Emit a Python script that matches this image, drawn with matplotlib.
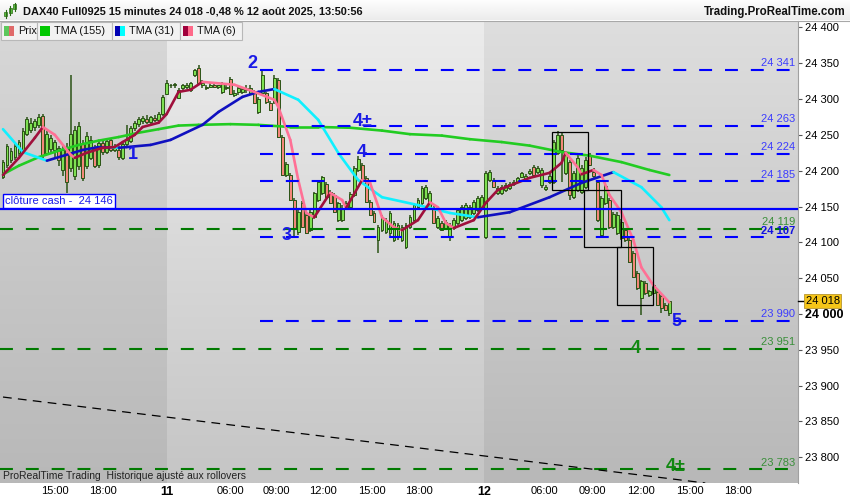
import numpy as np
import matplotlib.pyplot as plt
import matplotlib.colors as mcolors
import matplotlib.transforms as mtransforms
from matplotlib.patches import Rectangle
from matplotlib.collections import LineCollection

plt.rcParams['font.family'] = ['Liberation Sans', 'DejaVu Sans']

# DAX40 15 min bars, 10-12 Aug 2025
opens = [24191, 24208, 24215, 24219, 24225, 24226, 24251, 24257, 24261, 24264,
         24277, 24225, 24230, 24229, 24232, 24201, 24232, 24204, 24193, 24207,
         24237, 24207, 24218, 24233, 24208, 24239, 24226, 24243, 24229, 24229,
         24218, 24237, 24242, 24260, 24265, 24270, 24272, 24268, 24274, 24271,
         24279, 24307, 24319, 24319, 24302, 24316, 24317, 24313, 24333, 24344,
         24319, 24317, 24317, 24319, 24317, 24310, 24316, 24328, 24306, 24310,
         24310, 24312, 24309, 24309, 24282, 24309, 24309, 24295, 24296, 24327,
         24247, 24194, 24194, 24159, 24114, 24155, 24138, 24117, 24135, 24159,
         24169, 24181, 24170, 24166, 24131, 24131, 24148, 24149, 24166, 24201,
         24208, 24190, 24156, 24141, 24103, 24117, 24114, 24113, 24103, 24107,
         24103, 24093, 24121, 24131, 24149, 24155, 24162, 24149, 24148, 24121,
         24127, 24120, 24107, 24120, 24127, 24131, 24134, 24135, 24141, 24145,
         24149, 24107, 24187, 24187, 24169, 24169, 24173, 24176, 24181, 24184,
         24191, 24187, 24197, 24205, 24198, 24180, 24174, 24184, 24184, 24225,
         24250, 24197, 24212, 24163, 24173, 24170, 24177, 24222, 24198, 24184,
         24110, 24155, 24159, 24121, 24113, 24106, 24117, 24103, 24085, 24057,
         24022, 24043, 24026, 24029, 24030, 24025, 24012, 24002]
highs = [24215, 24237, 24232, 24239, 24243, 24260, 24275, 24274, 24272, 24279,
         24279, 24256, 24250, 24243, 24235, 24235, 24239, 24334, 24263, 24268,
         24243, 24254, 24249, 24236, 24243, 24243, 24246, 24246, 24237, 24235,
         24240, 24264, 24263, 24270, 24275, 24277, 24278, 24277, 24278, 24282,
         24306, 24327, 24321, 24323, 24316, 24321, 24323, 24324, 24342, 24347,
         24326, 24320, 24323, 24321, 24320, 24324, 24319, 24331, 24312, 24319,
         24317, 24319, 24319, 24312, 24303, 24340, 24310, 24298, 24333, 24330,
         24250, 24212, 24197, 24162, 24145, 24158, 24141, 24145, 24170, 24187,
         24193, 24184, 24173, 24169, 24156, 24152, 24158, 24170, 24207, 24221,
         24211, 24193, 24159, 24144, 24124, 24138, 24134, 24144, 24130, 24127,
         24124, 24127, 24138, 24155, 24162, 24179, 24180, 24172, 24151, 24137,
         24130, 24131, 24127, 24134, 24148, 24152, 24155, 24152, 24159, 24165,
         24166, 24200, 24201, 24190, 24179, 24180, 24183, 24184, 24187, 24191,
         24198, 24195, 24202, 24208, 24207, 24204, 24180, 24198, 24243, 24256,
         24253, 24226, 24215, 24200, 24222, 24208, 24219, 24225, 24204, 24187,
         24165, 24181, 24162, 24142, 24142, 24132, 24120, 24106, 24088, 24060,
         24048, 24046, 24034, 24044, 24033, 24027, 24015, 24016]
lows = [24188, 24204, 24211, 24215, 24221, 24223, 24249, 24253, 24256, 24260,
        24218, 24222, 24226, 24218, 24207, 24193, 24169, 24198, 24187, 24201,
        24186, 24202, 24215, 24204, 24204, 24222, 24223, 24226, 24226, 24215,
        24215, 24233, 24239, 24256, 24261, 24265, 24265, 24265, 24268, 24268,
        24277, 24305, 24316, 24316, 24300, 24313, 24314, 24310, 24331, 24321,
        24316, 24313, 24316, 24316, 24314, 24307, 24313, 24306, 24303, 24306,
        24307, 24309, 24306, 24293, 24279, 24306, 24293, 24284, 24293, 24246,
        24193, 24191, 24158, 24107, 24110, 24120, 24111, 24114, 24132, 24156,
        24166, 24162, 24153, 24141, 24128, 24128, 24145, 24146, 24163, 24198,
        24186, 24155, 24137, 24127, 24085, 24114, 24111, 24109, 24100, 24103,
        24100, 24090, 24118, 24128, 24146, 24152, 24159, 24146, 24125, 24118,
        24116, 24117, 24102, 24117, 24124, 24128, 24131, 24132, 24138, 24142,
        24146, 24104, 24184, 24176, 24166, 24166, 24170, 24173, 24179, 24183,
        24190, 24186, 24194, 24193, 24195, 24176, 24172, 24181, 24181, 24222,
        24184, 24194, 24159, 24160, 24170, 24167, 24174, 24207, 24190, 24128,
        24106, 24152, 24118, 24118, 24110, 24103, 24100, 24071, 24050, 24033,
        23999, 24027, 24023, 24026, 24011, 24002, 24004, 23997]
closes = [24212, 24235, 24228, 24235, 24240, 24256, 24272, 24267, 24270, 24275,
          24222, 24251, 24246, 24240, 24215, 24229, 24184, 24251, 24257, 24263,
          24190, 24249, 24243, 24207, 24239, 24226, 24242, 24229, 24235, 24219,
          24237, 24243, 24260, 24267, 24272, 24274, 24268, 24275, 24271, 24279,
          24303, 24323, 24320, 24321, 24313, 24319, 24320, 24323, 24340, 24323,
          24323, 24316, 24320, 24317, 24319, 24321, 24317, 24307, 24309, 24316,
          24314, 24316, 24316, 24295, 24300, 24333, 24296, 24285, 24330, 24247,
          24194, 24209, 24159, 24120, 24142, 24121, 24113, 24142, 24169, 24184,
          24191, 24163, 24155, 24142, 24155, 24148, 24155, 24167, 24204, 24216,
          24187, 24156, 24138, 24128, 24121, 24135, 24131, 24141, 24127, 24124,
          24121, 24124, 24135, 24152, 24159, 24176, 24177, 24169, 24127, 24134,
          24117, 24128, 24124, 24131, 24145, 24149, 24152, 24149, 24156, 24162,
          24163, 24197, 24198, 24177, 24176, 24177, 24180, 24181, 24184, 24190,
          24197, 24193, 24200, 24194, 24204, 24201, 24177, 24193, 24240, 24250,
          24229, 24223, 24166, 24197, 24218, 24204, 24215, 24208, 24193, 24131,
          24162, 24179, 24121, 24139, 24138, 24128, 24103, 24072, 24051, 24036,
          24046, 24029, 24032, 24041, 24012, 24008, 24005, 24018]

# moving averages, sampled along the curves (bar index, price)
tma155_bar = [0, 4, 9, 14, 19, 24, 29, 34, 39, 44, 49, 57, 64, 72, 79, 87, 95, 102,
              110, 117, 125, 132, 140, 147, 155, 162, 167]
tma155 = [24195, 24207, 24219, 24228, 24236, 24242, 24247, 24253, 24258, 24263,
          24264, 24265, 24264, 24261, 24261, 24260, 24256, 24251, 24249, 24244,
          24240, 24235, 24226, 24221, 24212, 24201, 24194]
tma31_bar = [0, 5, 11, 20, 24, 27, 29, 31, 37, 42, 50, 54, 60, 64, 68, 74, 79, 84,
             89, 95, 104, 112, 119, 127, 137, 145, 153, 160, 165, 167]
tma31 = [24258, 24226, 24214, 24229, 24233, 24233, 24232, 24233, 24236, 24243,
         24264, 24282, 24303, 24310, 24314, 24299, 24271, 24225, 24187, 24163,
         24152, 24141, 24135, 24142, 24163, 24183, 24198, 24177, 24149, 24131]
tma6_bar = [0, 4, 8, 10, 13, 17, 18, 21, 25, 28, 30, 33, 35, 39, 41, 44, 47, 50,
            58, 63, 68, 69, 72, 74, 76, 78, 82, 85, 86, 90, 92, 95, 98, 100, 104,
            107, 109, 111, 113, 118, 121, 124, 126, 132, 137, 140, 141, 144, 145,
            148, 150, 152, 155, 158, 160, 163, 167]
tma6 = [24194, 24218, 24246, 24261, 24250, 24222, 24218, 24225, 24232, 24233,
        24240, 24250, 24261, 24267, 24279, 24310, 24313, 24324, 24320, 24310,
        24299, 24289, 24243, 24187, 24141, 24135, 24169, 24159, 24148, 24187,
        24183, 24135, 24121, 24117, 24131, 24156, 24149, 24127, 24120, 24131,
        24155, 24173, 24177, 24190, 24197, 24211, 24225, 24205, 24195, 24201,
        24194, 24166, 24142, 24103, 24065, 24040, 24016]

blue_levels = [24341, 24263, 24224, 24185, 24107, 23990]
green_levels = [24119, 23951, 23783]
cash_close = 24146
last_price = 24018

# drawn objects
trend_bar = [0, 176]
trend_price = [23884, 23764]
box_bar0 = [137.6, 145.6, 153.9]
box_bar1 = [146.6, 154.9, 162.9]
box_top = [24254, 24173, 24093]
box_bot = [24173, 24093, 24012]
wave_text = ['1', '2', '3', '4\u00b1', '4', '5', '4', '4\u00b1']
wave_bar = [32.6, 62.4, 71.2, 90.2, 90.0, 168.9, 158.6, 168.7]
wave_price = [24222, 24349, 24110, 24268, 24226, 23990, 23952, 23787]
wave_green = [False, False, False, False, False, False, True, True]

tick_bar = [13, 25.1, 41.1, 56.9, 68.4, 80.2, 92.5, 104.3, 120.5, 135.8, 147.6,
            159.9, 172.2, 184.2]
tick_text = ['15:00', '18:00', '11', '06:00', '09:00', '12:00', '15:00', '18:00',
             '12', '06:00', '09:00', '12:00', '15:00', '18:00']
day_start = [41.1, 120.5]


def fmt(v):
    return f"{v:,}".replace(",", " ")


fig = plt.figure(figsize=(8.5, 5), dpi=100)
fig.patch.set_facecolor('white')
ax = fig.add_axes([0, 17 / 500, 798 / 850, 462 / 500])
x_lo, x_hi = -0.75, 199.25
y_lo, y_hi = 23764, 24409


def shade(x0, x1, top, bottom):
    t = np.array(mcolors.to_rgb(top))
    b = np.array(mcolors.to_rgb(bottom))
    g = np.linspace(0, 1, 200)[:, None]
    img = (t + (b - t) * g)[:, None, :]
    ax.imshow(img, extent=[x0, x1, y_lo, y_hi], origin='upper', aspect='auto',
              zorder=0, interpolation='bilinear')


shade(x_lo, day_start[0], '#d8d8d8', '#b8b8b8')
shade(day_start[0], day_start[1], '#ececec', '#c5c5c5')
shade(day_start[1], x_hi, '#dedede', '#b8b8b8')

# candles
o = np.array(opens); h = np.array(highs); l = np.array(lows); c = np.array(closes)
idx = np.arange(len(c))
up = c >= o
edge = '#2b5316'
ax.vlines(idx, l, h, color=edge, lw=1.1, zorder=2)
ax.bar(idx, np.maximum(np.abs(c - o), 0.8), bottom=np.minimum(o, c), width=0.72,
       color=np.where(up, '#7ee052', '#f4877a'), edgecolor=edge, linewidth=0.7,
       zorder=2.5)


def ma_line(xs, ys, rise, fall, lw):
    pts = np.column_stack([xs, ys])
    segs = np.stack([pts[:-1], pts[1:]], axis=1)
    cols = [rise if b[1] >= a[1] else fall for a, b in zip(pts[:-1], pts[1:])]
    ax.add_collection(LineCollection(segs, colors=cols, linewidths=lw, zorder=3,
                                     capstyle='round'))


ma_line(tma155_bar, tma155, '#22cc22', '#22cc22', 1.9)
ma_line(tma31_bar, tma31, '#1010c0', '#10f0ff', 1.9)
ma_line(tma6_bar, tma6, '#a0103c', '#ff7095', 1.9)

# levels
level_start = 64.4
for lv in blue_levels:
    ax.plot([level_start, x_hi], [lv, lv], color='#0000ff', lw=1.5,
            dashes=(6.2, 6.2), zorder=4)
for lv in green_levels:
    ax.plot([x_lo, x_hi], [lv, lv], color='#007a00', lw=1.5,
            dashes=(6.2, 6.2), zorder=4)
ax.axhline(cash_close, color='#0000ff', lw=1.6, zorder=4)
ax.plot(trend_bar, trend_price, color='black', lw=0.9, dashes=(7, 5), zorder=4)

trans = mtransforms.blended_transform_factory(ax.transAxes, ax.transData)
for lv in blue_levels:
    bold = lv == 24107
    ax.annotate(fmt(lv), xy=(0.996, lv), xycoords=trans, xytext=(0, 1.2),
                textcoords='offset points', ha='right', va='bottom', fontsize=8,
                color='#1212e0' if bold else '#3c3cff',
                fontweight='bold' if bold else 'normal', zorder=6)
for lv in green_levels:
    ax.annotate(fmt(lv), xy=(0.996, lv), xycoords=trans, xytext=(0, 1.2),
                textcoords='offset points', ha='right', va='bottom', fontsize=8,
                color='#3a8f3a', zorder=6)

ax.annotate('cl\u00f4ture cash -  ' + fmt(cash_close), xy=(0.003, cash_close),
            xycoords=trans, xytext=(2, 2.4), textcoords='offset points',
            ha='left', va='bottom', fontsize=8, color='#1a1ae6', zorder=7,
            bbox=dict(boxstyle='square,pad=0.2', fc='white', ec='#0000ff', lw=1))

for b0, b1, pt, pb in zip(box_bar0, box_bar1, box_top, box_bot):
    ax.add_patch(Rectangle((b0, pb), b1 - b0, pt - pb, fill=False, ec='black',
                           lw=0.9, zorder=5))

for t, b, p, g in zip(wave_text, wave_bar, wave_price, wave_green):
    ax.text(b, p, t, fontsize=13, fontweight='bold', ha='center', va='center',
            color='#118811' if g else '#1a1ae6', zorder=7)

ax.text(0.004, 0.016, 'ProRealTime Trading  Historique ajust\u00e9 aux rollovers',
        transform=ax.transAxes, fontsize=7.5, color='#222222', va='center',
        zorder=7)

ax.set_xlim(x_lo, x_hi)
ax.set_ylim(y_lo, y_hi)

# price axis
yt = list(range(23800, 24401, 50))
ax.yaxis.tick_right()
ax.set_yticks(yt, [fmt(v) for v in yt])
ax.tick_params(axis='y', length=3, width=0.8, color='#555555', pad=2,
               labelsize=8)
for lab, v in zip(ax.get_yticklabels(), yt):
    if v == 24000:
        lab.set_fontweight('bold')
        lab.set_fontsize(9)

ax.set_xticks(tick_bar, tick_text)
ax.tick_params(axis='x', length=0, pad=2.5, labelsize=8)
for lab in ax.get_xticklabels():
    if lab.get_text() in ('11', '12'):
        lab.set_fontweight('bold')
        lab.set_fontsize(9)

for s in ('left', 'top', 'bottom'):
    ax.spines[s].set_visible(False)
ax.spines['right'].set_color('#a0a0a0')
ax.spines['right'].set_linewidth(0.8)

ax.plot([1.0, 1.008], [last_price, last_price], transform=trans, color='black',
        lw=1, clip_on=False, zorder=8)
ax.annotate(fmt(last_price), xy=(1.0, last_price), xycoords=trans,
            xytext=(5.5, 0), textcoords='offset points', ha='left', va='center',
            fontsize=8, color='black', annotation_clip=False, zorder=9,
            bbox=dict(boxstyle='square,pad=0.15', fc='#f5c518', ec='#b8962e',
                      lw=0.6))

# header and legend, drawn in pixel units
ov = fig.add_axes([0, 0, 1, 1], zorder=20)
ov.set_facecolor('none')
hg = np.linspace(0, 1, 50)[:, None]
himg = (np.array([1, 1, 1]) + (np.array(mcolors.to_rgb('#ebebeb')) - 1) * hg)[:, None, :]
ov.imshow(himg, extent=(0, 850, 20.5, 0), origin='upper', aspect='auto')
ov.plot([0, 850], [20.5, 20.5], color='#a8a8a8', lw=0.8)

for cx, b0, b1, w0, w1 in [(6, 12, 16, 10, 18), (10.5, 8, 13, 6, 15), (15, 4, 9, 3, 11)]:
    ov.plot([cx, cx], [w0, w1], color='#2b6a16', lw=0.8)
    ov.add_patch(Rectangle((cx - 1.5, b0), 3, b1 - b0, fc='#58c23a', ec='#2b6a16',
                           lw=0.5))

ov.text(23, 11.5, 'DAX40 Full0925 15 minutes 24 018 -0,48 % 12 ao\u00fbt 2025, 13:50:56',
        fontsize=7.9, fontweight='bold', ha='left', va='center', color='#111111')
ov.text(846, 11.5, 'Trading.ProRealTime.com', fontsize=8.3, fontweight='bold',
        ha='right', va='center', color='#111111')

legend = [(1, 37, 'Prix', ('#5cc85c', '#e06a6a')),
          (37, 112, 'TMA (155)', ('#00c800', '#00c800')),
          (112, 180, 'TMA (31)', ('#0000b4', '#00ffff')),
          (180, 242, 'TMA (6)', ('#a0003c', '#ff6a8a'))]
for x0, x1, name, (c1, c2) in legend:
    ov.add_patch(Rectangle((x0, 22), x1 - x0, 17.5, fc='#f2f2f2', ec='#b8b8b8',
                           lw=0.8))
    ov.add_patch(Rectangle((x0 + 3, 25.5), 5, 10, fc=c1, ec='none'))
    ov.add_patch(Rectangle((x0 + 8, 25.5), 5, 10, fc=c2, ec='none'))
    ov.text(x0 + 17, 31, name, fontsize=7.8, ha='left', va='center',
            color='#111111')

ov.set_xlim(0, 850)
ov.set_ylim(500, 0)
ov.axis('off')

fig.savefig('out.png', dpi=100)
